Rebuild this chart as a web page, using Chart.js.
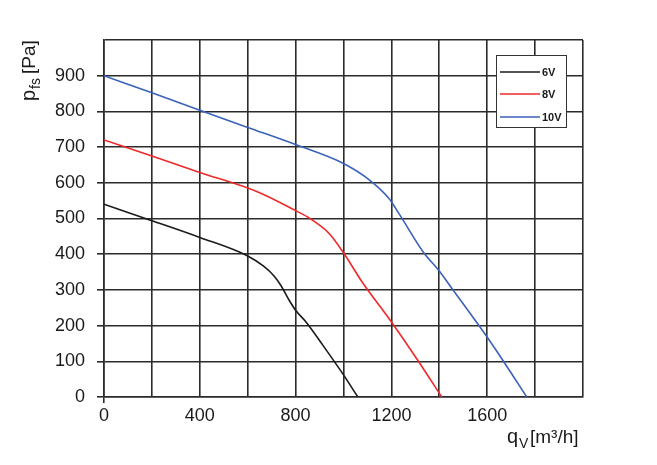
<!DOCTYPE html>
<html>
<head>
<meta charset="utf-8">
<script src="https://cdn.jsdelivr.net/npm/chart.js@4"></script>
<style>
  html, body { margin: 0; padding: 0; background: #ffffff; }
  #wrap { width: 657px; height: 465px; }
</style>
</head>
<body>
<div id="wrap"><canvas id="chart" width="657" height="465"></canvas></div>
<script>
// fan curves
const seriesNames = ["6V", "8V", "10V"];
const seriesColors = ["#1a1a1a", "#f02828", "#3a62b8"];

const flow6 = [0, 200, 400, 600, 665, 710, 740, 775, 800, 845, 915, 1000, 1060];
const pres6 = [540, 494, 447, 395, 367, 339, 311, 269, 243, 209, 144, 62, 0];

const flow8 = [0, 200, 400, 640, 800, 860, 940, 1000, 1080, 1195, 1310, 1410];
const pres8 = [720, 675, 629, 575, 522, 500, 458, 404, 320, 215, 103, 0];

const flow10 = [0, 200, 400, 600, 800, 1000, 1110, 1190, 1235, 1335, 1395, 1455, 1590, 1665, 1765];
const pres10 = [900, 852, 803, 755, 707, 654, 607, 556, 510, 404, 357, 302, 177, 103, 0];

const xLabels = [0, 400, 800, 1200, 1600];
const yLabels = [0, 100, 200, 300, 400, 500, 600, 700, 800, 900];

const fontName = "'Liberation Sans', Arial, sans-serif";
const gridColor = "#2b2b2b";

function toPoints(xs, ys) {
    let pts = [];
    for (let i = 0; i < xs.length; i++) {
        pts.push({ x: xs[i], y: ys[i] });
    }
    return pts;
}

const allFlows = [flow6, flow8, flow10];
const allPres = [pres6, pres8, pres10];
let datasets = [];
for (let i = 0; i < seriesNames.length; i++) {
    datasets.push({
        label: seriesNames[i],
        data: toPoints(allFlows[i], allPres[i]),
        borderColor: seriesColors[i],
        borderWidth: 1.6,
        pointRadius: 0,
        showLine: true,
        cubicInterpolationMode: "monotone"
    });
}

// axis titles with subscripts, and the boxed legend inside the plot
const extras = {
    id: "extras",
    afterDraw(chart) {
        const ctx = chart.ctx;
        ctx.save();
        ctx.fillStyle = "#1a1a1a";
        ctx.textBaseline = "alphabetic";

        // x title
        ctx.textAlign = "left";
        ctx.font = "20px " + fontName;
        ctx.fillText("q", 507, 443);
        ctx.font = "14px " + fontName;
        ctx.fillText("V", 519, 448);
        ctx.font = "19px " + fontName;
        ctx.fillText("[m³/h]", 530, 443);

        // y title, rotated
        ctx.translate(35, 101);
        ctx.rotate(-Math.PI / 2);
        ctx.font = "20px " + fontName;
        ctx.fillText("p", 0, 0);
        ctx.font = "14px " + fontName;
        ctx.fillText("fs", 12, 5);
        ctx.font = "19px " + fontName;
        ctx.fillText("[Pa]", 27, 0);
        ctx.restore();

        // legend box
        ctx.save();
        ctx.fillStyle = "#ffffff";
        ctx.fillRect(496, 55, 71, 73);
        ctx.strokeStyle = "#333333";
        ctx.lineWidth = 1;
        ctx.strokeRect(496.5, 55.5, 70, 72);
        const rowY = [72, 94, 117];
        ctx.font = "bold 11px " + fontName;
        ctx.textBaseline = "middle";
        ctx.textAlign = "left";
        for (let i = 0; i < seriesNames.length; i++) {
            ctx.strokeStyle = seriesColors[i];
            ctx.lineWidth = 1.6;
            ctx.beginPath();
            ctx.moveTo(500, rowY[i]);
            ctx.lineTo(540, rowY[i]);
            ctx.stroke();
            ctx.fillStyle = "#1a1a1a";
            ctx.fillText(seriesNames[i], 542, rowY[i] + 1);
        }
        ctx.restore();
    }
};

const ctx = document.getElementById("chart").getContext("2d");
const chart = new Chart(ctx, {
    type: "scatter",
    data: { datasets: datasets },
    plugins: [extras],
    options: {
        responsive: false,
        animation: false,
        layout: { padding: { left: 0, right: 74, top: 40, bottom: 0 } },
        plugins: {
            legend: { display: false },
            tooltip: { enabled: false }
        },
        scales: {
            x: {
                type: "linear",
                min: 0,
                max: 2000,
                afterFit: (scale) => { scale.height = 68; },
                border: { display: true, color: gridColor, width: 1.6 },
                grid: {
                    color: gridColor,
                    lineWidth: 1.6,
                    tickLength: 6,
                    tickColor: (c) => (c.index === 0 ? gridColor : "rgba(0,0,0,0)")
                },
                ticks: {
                    stepSize: 200,
                    autoSkip: false,
                    maxRotation: 0,
                    padding: 2,
                    color: "#1a1a1a",
                    font: { family: fontName, size: 18 },
                    callback: (v) => (xLabels.includes(v) ? String(v) : "")
                }
            },
            y: {
                type: "linear",
                min: 0,
                max: 1000,
                afterFit: (scale) => { scale.width = 104; },
                border: { display: true, color: gridColor, width: 1.6 },
                grid: {
                    color: gridColor,
                    lineWidth: 1.6,
                    tickLength: 7,
                    tickColor: (c) => (c.tick && c.tick.value === 1000 ? "rgba(0,0,0,0)" : gridColor)
                },
                ticks: {
                    stepSize: 100,
                    autoSkip: false,
                    padding: 12,
                    color: "#1a1a1a",
                    font: { family: fontName, size: 18 },
                    callback: (v) => (yLabels.includes(v) ? String(v) : "")
                }
            }
        }
    }
});
</script>
</body>
</html>
